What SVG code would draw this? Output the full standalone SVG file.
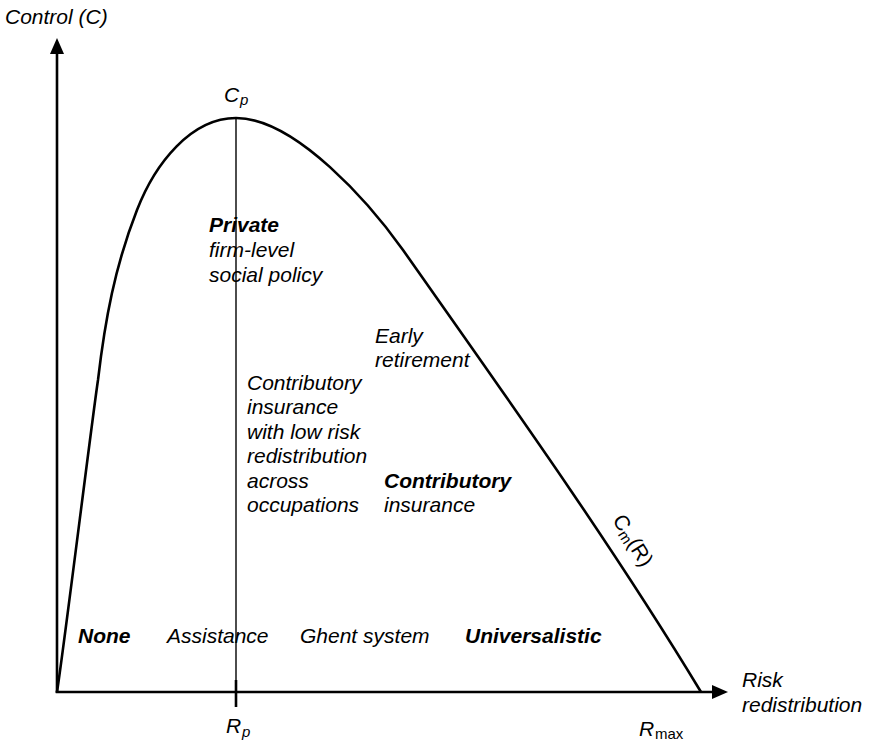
<svg xmlns="http://www.w3.org/2000/svg" width="872" height="744" viewBox="0 0 872 744">
<defs>
<style>
text{font-family:"Liberation Sans",Arial,sans-serif;font-size:21px;fill:#000;font-style:italic}
.b{font-weight:bold}
.sub{font-size:15px}
.up{font-style:normal}
.ax{stroke:#000;stroke-width:2.6;fill:none}
</style>
<marker id="ah" viewBox="0 0 16 14" refX="1" refY="7" markerWidth="16" markerHeight="14" markerUnits="userSpaceOnUse" orient="auto">
<path d="M0,0 L16,7 L0,14 Z" fill="#000"/>
</marker>
</defs>
<rect width="872" height="744" fill="#fff"/>
<g id="axes">
<line class="ax" x1="57" y1="693" x2="57" y2="53" marker-end="url(#ah)"/>
<line class="ax" x1="55.7" y1="692" x2="713" y2="692" marker-end="url(#ah)"/>
</g>
<g id="rp-line">
<line x1="236" y1="118" x2="236" y2="680" stroke="#000" stroke-width="1.4"/>
<line x1="236" y1="680" x2="236" y2="707" stroke="#000" stroke-width="2.6"/>
</g>
<g id="curve">
<path class="ax" d="M57,692 C63,655 92,420 98,380 C105,320 115,266 137,210 C155,163.5 191,118 236,118 C296,118 371,205 403,250 C505,395 609,540 701,692"/>
</g>
<g id="labels">
<text x="5" y="24">Control (C)</text>
<text x="742" y="687">Risk</text>
<text x="742" y="712">redistribution</text>
<text x="224" y="102">C</text><text class="sub" x="240" y="105">p</text>
<text x="226" y="733">R</text><text class="sub" x="242" y="737">p</text>
<text x="639" y="736">R</text><text class="sub up" x="655" y="739">max</text>
<g transform="translate(612,520) rotate(58)"><text class="up">C<tspan class="sub" dy="3">m</tspan><tspan dy="-3">(R)</tspan></text></g>
</g>
<g id="regions">
<text class="b" x="209" y="232">Private</text>
<text x="209" y="257">firm-level</text>
<text x="209" y="282">social policy</text>
<text x="375" y="343">Early</text>
<text x="375" y="367">retirement</text>
<text x="247" y="390">Contributory</text>
<text x="247" y="414">insurance</text>
<text x="247" y="439">with low risk</text>
<text x="247" y="463">redistribution</text>
<text x="247" y="488">across</text>
<text x="247" y="512">occupations</text>
<text class="b" x="384" y="488">Contributory</text>
<text x="384" y="512">insurance</text>
<text class="b" x="78" y="643">None</text>
<text x="167" y="643">Assistance</text>
<text x="300" y="643">Ghent system</text>
<text class="b" x="465" y="643">Universalistic</text>
</g>
</svg>
